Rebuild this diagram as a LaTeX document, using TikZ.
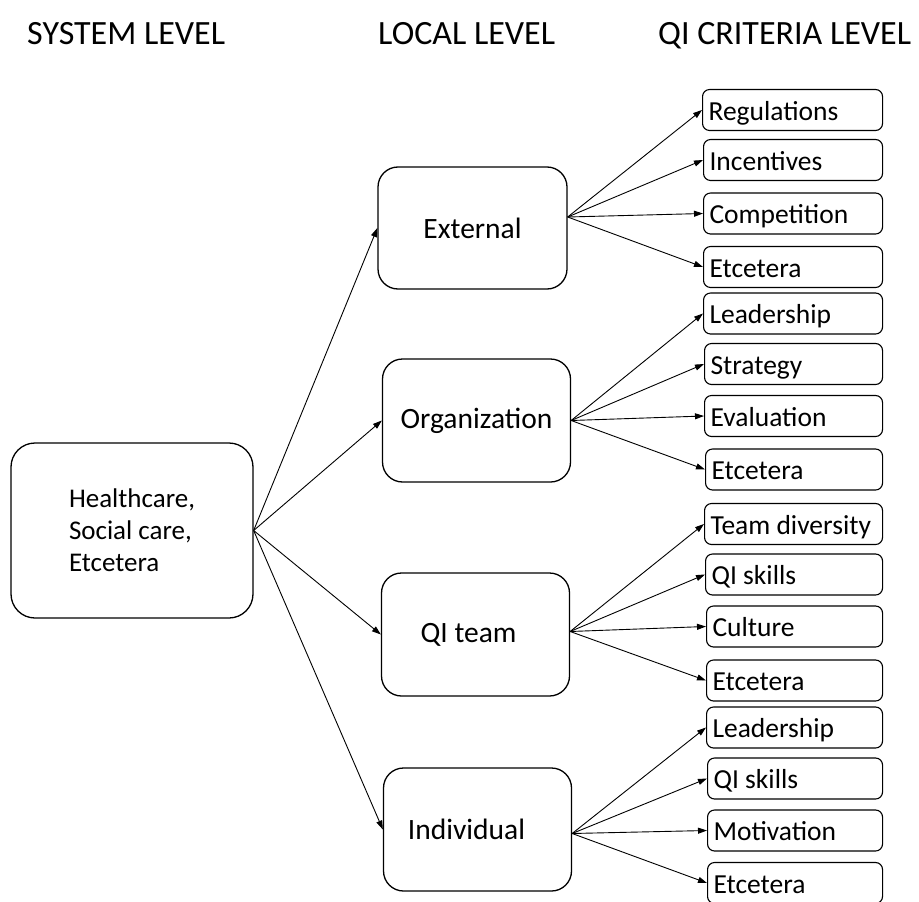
\documentclass[tikz,border=0pt]{standalone}
\usepackage{fontspec}
\setmainfont{Carlito}
\usetikzlibrary{arrows.meta,calc}
\begin{document}
\begin{tikzpicture}[x=1pt,y=-1pt,
  lvl/.style={font=\fontsize{34}{40}\selectfont, anchor=base west, inner sep=0pt},
  sysbox/.style={draw, line width=1.3pt, rounded corners=24pt, minimum width=242pt, minimum height=175pt, align=left, font=\fontsize{27}{32}\selectfont},
  locbox/.style={draw, line width=1.3pt, rounded corners=20pt, minimum width=188pt, minimum height=123pt, font=\fontsize{29.5}{34}\selectfont},
  crit/.style={draw, line width=1.1pt, rounded corners=7pt, minimum height=41pt, inner xsep=6pt, inner ysep=0pt, text height=20pt, text depth=0pt, anchor=west, font=\fontsize{27.5}{31}\selectfont},
  conn/.style={line width=0.9pt, -{Triangle[length=9pt,width=6pt]}}
]
\useasboundingbox (0,0) rectangle (919,902);
% headers
\node[lvl] (h1) at (27,44) {SYSTEM LEVEL};
\node[lvl] (h2) at (378,44) {LOCAL LEVEL};
\node[lvl] (h3) at (658,44) {QI CRITERIA LEVEL};
% system
\node[sysbox] (sys) at (132,530.5) {Healthcare,\\Social care,\\Etcetera};
% local
\node[locbox, minimum width=189pt, minimum height=122pt] (ext) at (472.5,228) {External};
\node[locbox] (org) at (476.5,420.5) {Organization};
\node[locbox] (qit) at (475.5,634.5) {\hspace*{-14pt}QI team};
\node[locbox] (ind) at (477.5,829.5) {\hspace*{-22pt}Individual};
% criteria group 1
\node[crit] (reg) at (702,110) {\makebox[168pt][l]{Regulations}};
\node[crit] (inc) at (703,160) {\makebox[167pt][l]{Incentives}};
\node[crit] (comp) at (703,213.5) {\makebox[167pt][l]{Competition}};
\node[crit] (etca) at (703,267) {\makebox[167pt][l]{Etcetera}};
% group 2
\node[crit] (leada) at (703,313.5) {\makebox[167pt][l]{Leadership}};
\node[crit] (strat) at (704,364) {\makebox[166pt][l]{Strategy}};
\node[crit] (eval) at (704,416) {\makebox[166pt][l]{Evaluation}};
\node[crit] (etcb) at (705,469.5) {\makebox[165pt][l]{Etcetera}};
% group 3
\node[crit] (team) at (704,524) {\makebox[166pt][l]{Team diversity}};
\node[crit] (qisa) at (705,574.5) {\makebox[165pt][l]{QI skills}};
\node[crit] (cult) at (706,626.5) {\makebox[164pt][l]{Culture}};
\node[crit] (etcc) at (706,680.5) {\makebox[164pt][l]{Etcetera}};
% group 4
\node[crit] (leadb) at (706,727.5) {\makebox[164pt][l]{Leadership}};
\node[crit] (qisb) at (707,778.5) {\makebox[163pt][l]{QI skills}};
\node[crit] (mot) at (707,830.5) {\makebox[163pt][l]{Motivation}};
\node[crit] (etcd) at (707,883) {\makebox[163pt][l]{Etcetera}};
% connectors system -> local
\foreach \t in {ext,org,qit,ind}
  \draw[conn] (sys.east) -- (\t.west);
% local -> criteria
\coordinate (extout) at ($(ext.east)+(0,-11)$);
\foreach \t in {reg,inc,comp,etca}
  \draw[conn] (extout) -- (\t.west);
\foreach \t in {leada,strat,eval,etcb}
  \draw[conn] (org.east) -- (\t.west);
\coordinate (qitout) at ($(qit.east)+(0,-3)$);
\foreach \t in {team,qisa,cult,etcc}
  \draw[conn] (qitout) -- (\t.west);
\coordinate (indout) at ($(ind.east)+(0,4)$);
\foreach \t in {leadb,qisb,mot,etcd}
  \draw[conn] (indout) -- (\t.west);
\end{tikzpicture}
\end{document}
